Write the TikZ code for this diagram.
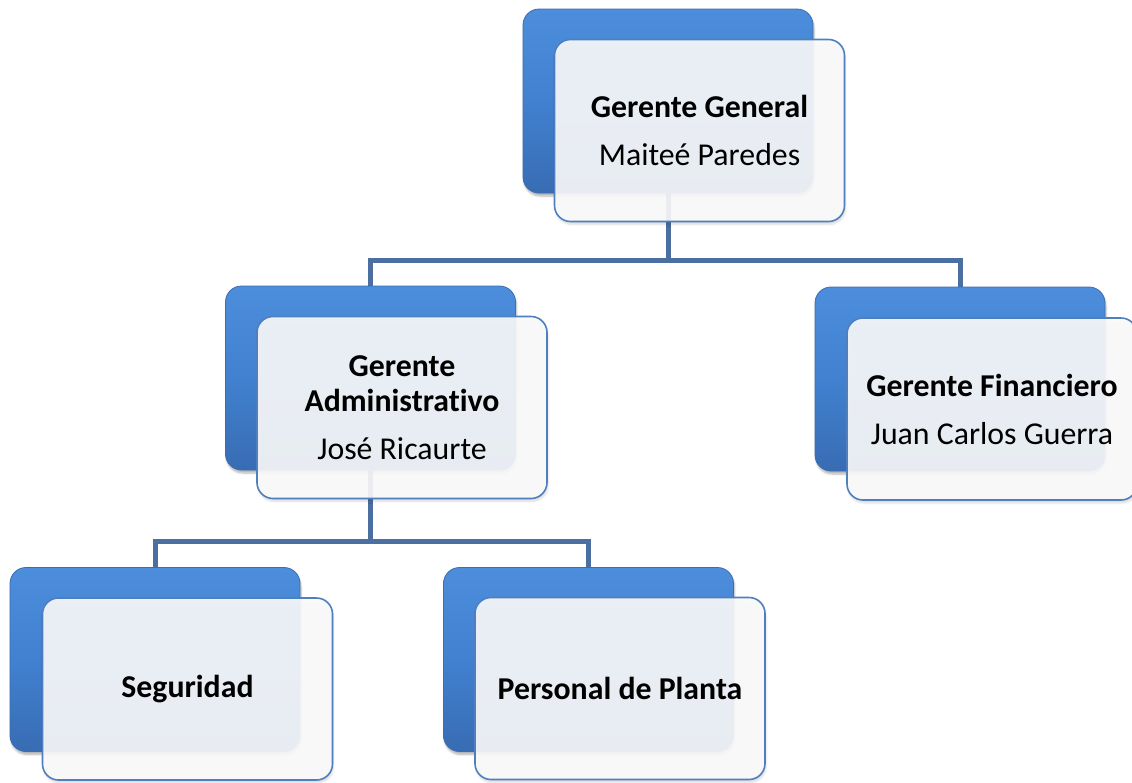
\documentclass[tikz,border=0pt]{standalone}
\usepackage{fontspec}
\setmainfont{Carlito}[RawFeature={-liga}]
\usetikzlibrary{shadows.blur}
\definecolor{bluetop}{HTML}{4D8EDC}
\definecolor{bluemid}{HTML}{4181D0}
\definecolor{bluebot}{HTML}{386CB3}
\definecolor{blueedge}{HTML}{3B6DB0}
\definecolor{cardfill}{HTML}{FBFBFB}
\definecolor{cardedge}{HTML}{4F7FBF}
\definecolor{linkcol}{HTML}{4A6FA0}
\tikzset{
  backbox/.style={rectangle, rounded corners=16pt, minimum width=290pt, minimum height=184pt,
    inner sep=0pt, top color=bluetop, bottom color=bluebot, middle color=bluemid,
    draw=blueedge, line width=0.8pt,
    blur shadow={shadow xshift=1pt, shadow yshift=-3pt, shadow blur steps=6, shadow opacity=30}},
  card/.style={rectangle, rounded corners=16pt, minimum width=290pt, minimum height=182pt,
    inner sep=0pt, fill=cardfill, fill opacity=0.91, text opacity=1,
    draw=cardedge, draw opacity=1, line width=1.6pt, align=center,
    font=\fontsize{31.8}{35}\selectfont,
    blur shadow={shadow xshift=1pt, shadow yshift=-3pt, shadow blur steps=5, shadow opacity=15}},
  link/.style={draw=linkcol, line width=5pt}
}
\begin{document}
\begin{tikzpicture}[x=1pt,y=-1pt]
\useasboundingbox (0,0) rectangle (1132,782);
\clip (0,0) rectangle (1132,782);
% junction points
\coordinate (j1) at (668,260);
\coordinate (j2) at (370.5,541);
% back boxes positions (for connectors)
\path (668,101) coordinate (ggc) (370.5,378) coordinate (gac) (960,379) coordinate (gfc)
      (155,659.5) coordinate (sgc) (588.5,659.5) coordinate (ppc);
% connectors (behind boxes)
\draw[link] (ggc) -- (j1);
\draw[link] (j1) -| (gac);
\draw[link] (j1) -| (gfc);
\draw[link] (gac) -- (j2);
\draw[link] (j2) -| (sgc);
\draw[link] (j2) -| (ppc);
% back boxes
\node[backbox] (ggb) at (ggc) {};
\node[backbox] (gab) at (gac) {};
\node[backbox] (gfb) at (gfc) {};
\node[backbox] (sgb) at (sgc) {};
\node[backbox] (ppb) at (ppc) {};
% cards
\node[card] (ggw) at (699.5,130.5) {\textbf{Gerente General}\\[13pt]Maiteé Paredes};
\node[card] (gaw) at (402,407.5) {\textbf{Gerente}\\\textbf{Administrativo}\\[13pt]José Ricaurte};
\node[card] (gfw) at (992,409) {\textbf{Gerente Financiero}\\[13pt]Juan Carlos Guerra};
\node[card] (sgw) at (187.5,689) {\textbf{Seguridad}};
\node[card] (ppw) at (620,688.5) {\textbf{Personal de Planta}};
\end{tikzpicture}
\end{document}
